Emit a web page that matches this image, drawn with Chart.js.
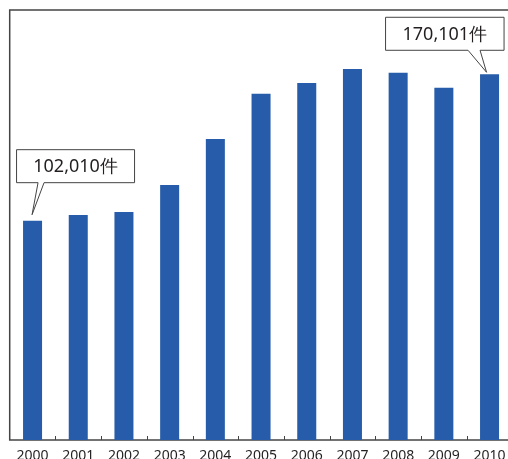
<!DOCTYPE html>
<html>
<head>
<meta charset="utf-8">
<script src="https://cdn.jsdelivr.net/npm/chart.js@4"></script>
<style>
  html, body { margin: 0; padding: 0; background: #fff; overflow: hidden; }
  #wrap { width: 516px; height: 459px; }
</style>
</head>
<body>
<div id="wrap"><canvas id="barChart" width="516" height="459"></canvas></div>
<script>
const years = ['2000', '2001', '2002', '2003', '2004', '2005', '2006', '2007', '2008', '2009', '2010'];
const counts = [102010, 104700, 106100, 118600, 140000, 161000, 166100, 172600, 170800, 163800, 170101];
const yMax = 200000;
// which bars get a callout, and where the box sits relative to the bar top
const callouts = [
  { index: 0, text: '102,010件', boxLeft: -16, boxRight: 102, boxUp: 38, baseA: 5.5, baseB: 11.5, tipX: -0.5, tipY: -6 },
  { index: 10, text: '170,101件', boxLeft: -104, boxRight: 14.5, boxUp: 24, baseA: -21.5, baseB: -9.5, tipX: -3, tipY: -2 }
];

const FONT = '"Noto Sans", "Open Sans", sans-serif';

// frame + little ticks between categories
const framePlugin = {
  id: 'frame',
  beforeDatasetsDraw(chart) {
    const { ctx, chartArea: a } = chart;
    const x = chart.scales.x;
    ctx.save();
    ctx.strokeStyle = '#444';
    ctx.lineWidth = 1.5;
    ctx.strokeRect(a.left, a.top, a.right - a.left, a.bottom - a.top);
    ctx.lineWidth = 1;
    for (let i = 1; i < years.length; i++) {
      const px = Math.round((x.getPixelForValue(i - 1) + x.getPixelForValue(i)) / 2) + 0.5;
      ctx.beginPath();
      ctx.moveTo(px, a.bottom);
      ctx.lineTo(px, a.bottom - 4);
      ctx.stroke();
    }
    ctx.restore();
  }
};

const calloutPlugin = {
  id: 'callouts',
  afterDatasetsDraw(chart) {
    const { ctx } = chart;
    const meta = chart.getDatasetMeta(0);
    ctx.save();
    callouts.forEach(c => {
      const bar = meta.data[c.index];
      const cx = bar.x, top = bar.y;
      const left = cx + c.boxLeft, right = cx + c.boxRight;
      const bottom = top - c.boxUp, boxTop = bottom - 33;
      ctx.beginPath();
      ctx.moveTo(left, boxTop);
      ctx.lineTo(right, boxTop);
      ctx.lineTo(right, bottom);
      ctx.lineTo(cx + c.baseB, bottom);
      ctx.lineTo(cx + c.tipX, top + c.tipY);
      ctx.lineTo(cx + c.baseA, bottom);
      ctx.lineTo(left, bottom);
      ctx.closePath();
      ctx.fillStyle = '#fff';
      ctx.fill();
      ctx.strokeStyle = '#444';
      ctx.lineWidth = 1;
      ctx.stroke();
      ctx.fillStyle = '#231f20';
      ctx.font = '18px ' + FONT;
      ctx.textAlign = 'center';
      ctx.textBaseline = 'middle';
      ctx.fillText(c.text, (left + right) / 2, (boxTop + bottom) / 2 + 1);
    });
    ctx.restore();
  }
};

new Chart(document.getElementById('barChart'), {
  type: 'bar',
  data: {
    labels: years,
    datasets: [{
      data: counts,
      backgroundColor: '#265ca9',
      categoryPercentage: 1,
      barPercentage: 0.416
    }]
  },
  options: {
    responsive: false,
    animation: false,
    layout: { padding: { left: 9.7, top: 10, right: 3.6, bottom: 0 } },
    plugins: { legend: { display: false }, tooltip: { enabled: false } },
    scales: {
      y: { display: false, min: 0, max: yMax },
      x: {
        grid: { display: false },
        border: { display: false },
        ticks: {
          color: '#231f20',
          font: { family: FONT, size: 14 },
          padding: 0,
          maxRotation: 0,
          autoSkip: false
        },
        afterFit(scale) { scale.height = 19; }
      }
    }
  },
  plugins: [framePlugin, calloutPlugin]
});
</script>
</body>
</html>
